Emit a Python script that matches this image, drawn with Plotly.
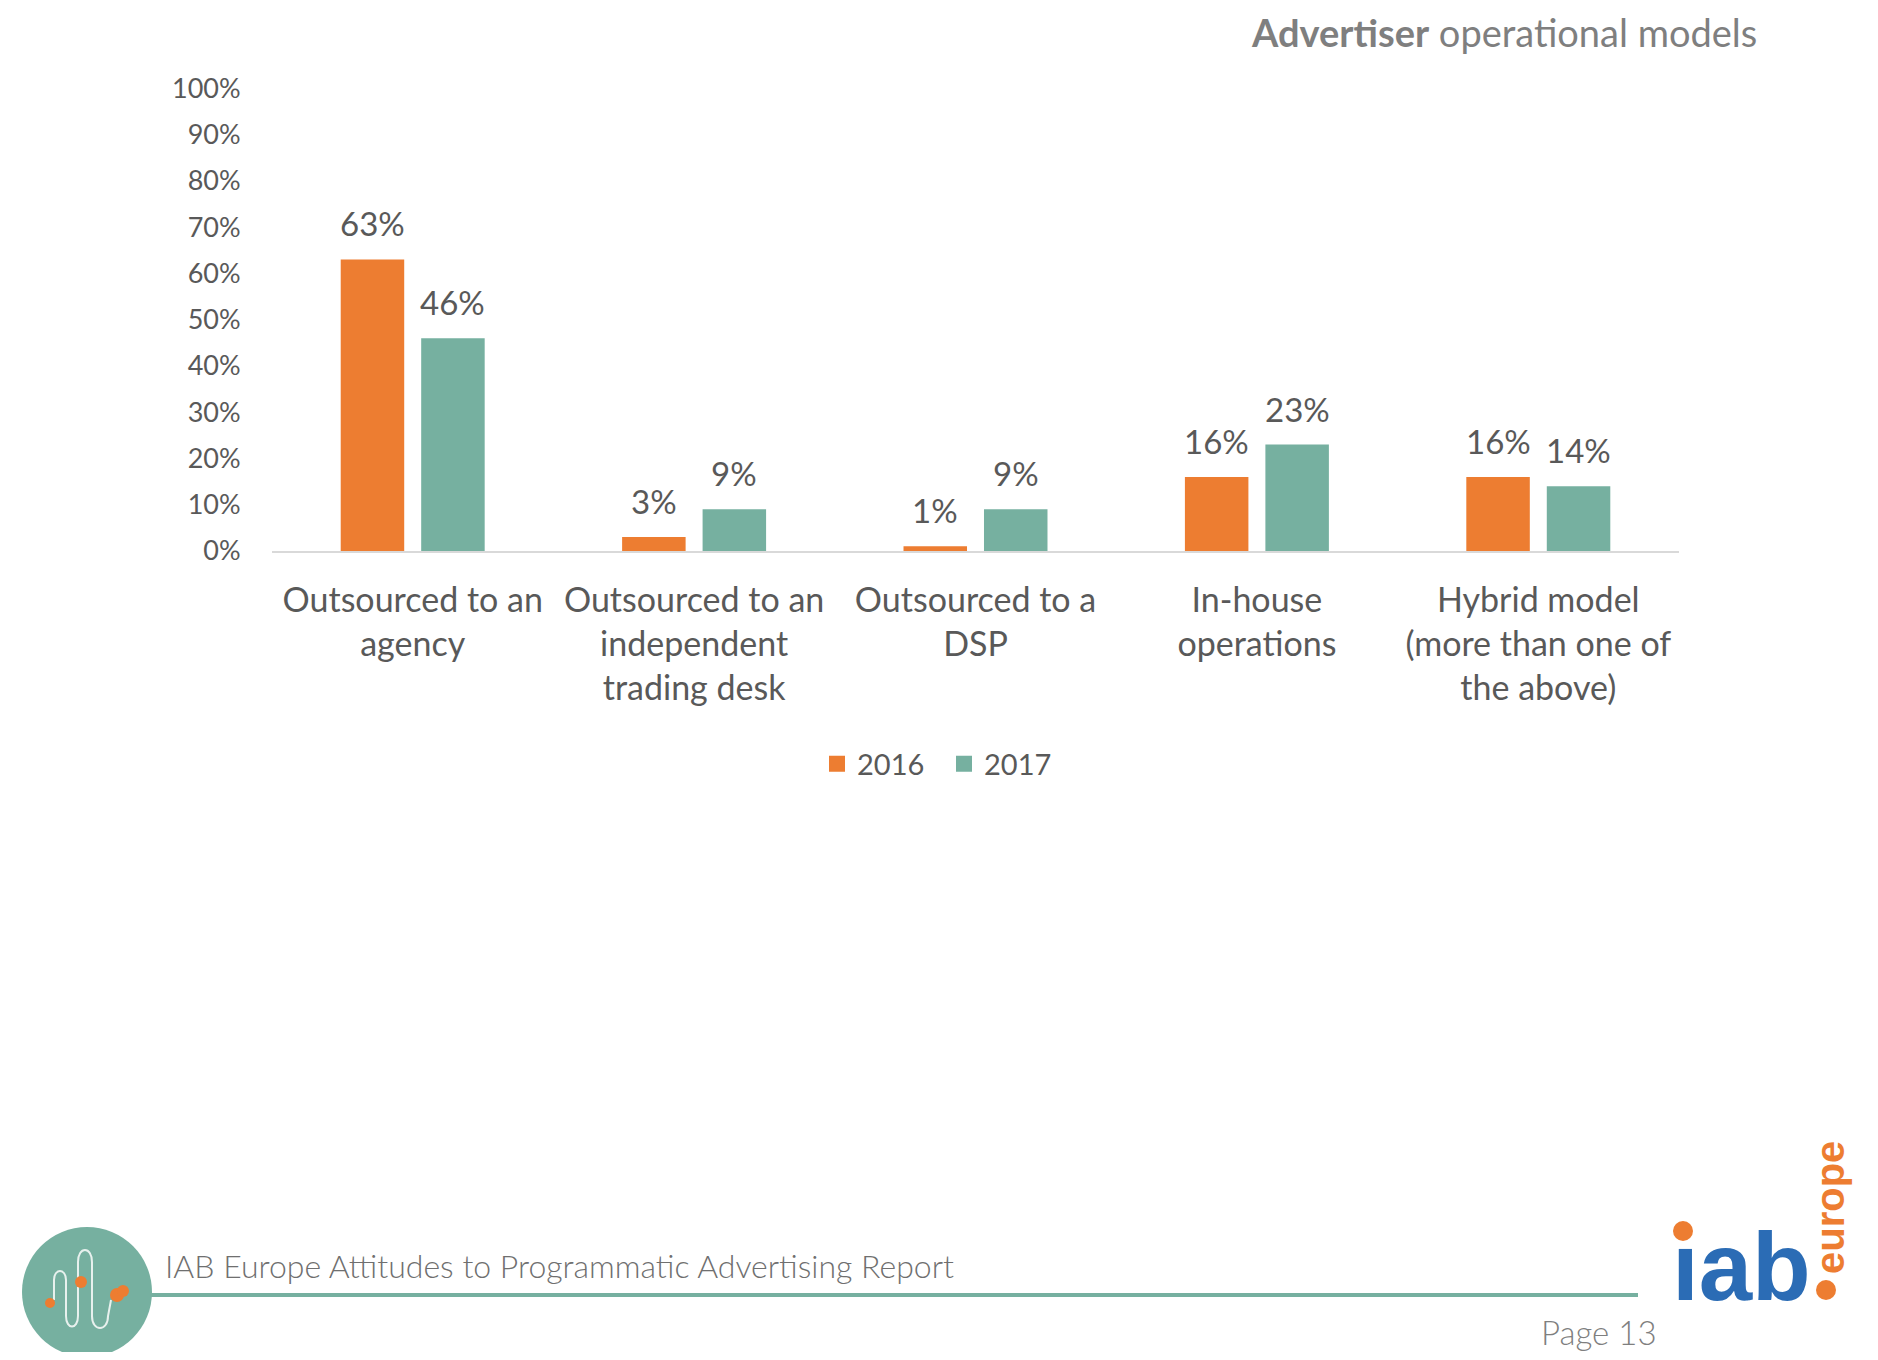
import plotly.graph_objects as go

# ---------------- data ----------------
categories = [
    "Outsourced to an agency",
    "Outsourced to an independent trading desk",
    "Outsourced to a DSP",
    "In-house operations",
    "Hybrid model (more than one of the above)",
]
category_labels = [
    "Outsourced to an<br>agency",
    "Outsourced to an<br>independent<br>trading desk",
    "Outsourced to a<br>DSP",
    "In-house<br>operations",
    "Hybrid model<br>(more than one of<br>the above)",
]
series_names = ["2016", "2017"]
values_2016 = [63, 3, 1, 16, 16]
values_2017 = [46, 9, 9, 23, 14]
y_tick_values = [0, 10, 20, 30, 40, 50, 60, 70, 80, 90, 100]
y_tick_labels = [f"{v}%" for v in y_tick_values]

title_bold = "Advertiser"
title_rest = "operational models"
footer_text = "IAB Europe Attitudes to Programmatic Advertising Report"
page_text = "Page 13"

# ---------------- style ----------------
W, H = 1878, 1360
PAD = 8                      # page body margin
FW, FH = W - 2 * PAD, H - 2 * PAD
ORANGE = "#ED7D31"
TEAL = "#76B0A0"
TEXT = "#595959"
FONT = "Lato"
BLUE = "#2B6CB5"

PLOT_L, PLOT_R = 272, 1679
PLOT_T, PLOT_B = 88.3, 551
BARGAP = 0.428
BARGROUPGAP = 0.211


def fx(x):
    return (x - PAD) / FW


def fy(y):
    return 1 - (y - PAD) / FH


fig = go.Figure()
series = [(series_names[0], values_2016, ORANGE), (series_names[1], values_2017, TEAL)]
for name, vals, col in series:
    fig.add_trace(go.Bar(x=categories, y=vals, name=name, marker_color=col,
                         marker_line_width=0, showlegend=False, hoverinfo="x+y"))
# legend entries
for name, vals, col in series:
    fig.add_trace(go.Scatter(x=[None], y=[None], mode="markers", name=name,
                             marker=dict(symbol="square", size=19, color=col),
                             showlegend=True))

annotations = []
cat_px = (PLOT_R - PLOT_L) / len(categories)
slot = (1 - BARGAP) / 2 * cat_px
for k, (name, vals, col) in enumerate(series):
    sign = -1 if k == 0 else 1
    for c, v in zip(categories, vals):
        annotations.append(dict(x=c, y=v, xref="x", yref="y", text=f"{v}%",
                                showarrow=False, xshift=sign * slot / 2, yshift=36,
                                yanchor="middle", xanchor="center",
                                font=dict(family=FONT, size=33, color=TEXT)))

# title
annotations.append(dict(x=fx(1758), y=1, xref="paper", yref="paper",
                        xanchor="right", yanchor="top", showarrow=False, borderpad=0,
                        text=f"<b>{title_bold}</b> {title_rest}",
                        font=dict(family=FONT, size=38, color="#7F7F7F")))
# footer
annotations.append(dict(x=fx(163), y=fy(1265), xref="paper", yref="paper",
                        xanchor="left", yanchor="middle", showarrow=False,
                        text=footer_text,
                        font=dict(family=FONT, size=32, color="#6F6F6F", weight=300)))
annotations.append(dict(x=fx(1659), y=fy(1332), xref="paper", yref="paper",
                        xanchor="right", yanchor="middle", showarrow=False,
                        text=page_text,
                        font=dict(family=FONT, size=33, color="#7F7F7F", weight=300)))
# iab logo text
annotations.append(dict(x=fx(1741), y=fy(1300), xref="paper", yref="paper",
                        xanchor="center", yanchor="bottom", showarrow=False,
                        text="<b>\u0131ab</b>", yshift=-22,
                        font=dict(family="Liberation Sans", size=96, color=BLUE)))
annotations.append(dict(x=fx(1830), y=fy(1208), xref="paper", yref="paper",
                        xanchor="center", yanchor="middle", showarrow=False,
                        text="<b>europe</b>", textangle=-90,
                        font=dict(family="Liberation Sans", size=40, color=ORANGE)))

shapes = []
# footer rule
shapes.append(dict(type="line", xref="paper", yref="paper", x0=fx(151), x1=fx(1638),
                   y0=fy(1295), y1=fy(1295), line=dict(color=TEAL, width=4), layer="below"))
# circle emblem
cx, cy, r = 87, 1292, 65
shapes.append(dict(type="circle", xref="paper", yref="paper", x0=fx(cx - r), x1=fx(cx + r),
                   y0=fy(cy - r), y1=fy(cy + r), fillcolor=TEAL, line=dict(width=0)))


def P(x, y):
    return f"{fx(x):.5f},{fy(y):.5f}"


squiggle = ("M " + P(54, 1300) + " L " + P(54, 1280) +
            " C " + P(54, 1268) + " " + P(66, 1268) + " " + P(66, 1280) +
            " L " + P(66, 1316) +
            " C " + P(66, 1330) + " " + P(78, 1330) + " " + P(78, 1316) +
            " L " + P(78, 1262) +
            " C " + P(78, 1246) + " " + P(92, 1246) + " " + P(92, 1262) +
            " L " + P(92, 1316) +
            " C " + P(92, 1332) + " " + P(108, 1332) + " " + P(108, 1316) +
            " L " + P(111, 1300))
shapes.append(dict(type="path", xref="paper", yref="paper", path=squiggle,
                   line=dict(color="#E8F1EE", width=2)))
for (dx, dy, dr) in [(50, 1303, 5), (81, 1282, 6), (117, 1295, 7), (123, 1291, 6)]:
    shapes.append(dict(type="circle", xref="paper", yref="paper", x0=fx(dx - dr), x1=fx(dx + dr),
                       y0=fy(dy - dr), y1=fy(dy + dr), fillcolor=ORANGE, line=dict(width=0)))
# iab logo dots
for (dx, dy, dr) in [(1683, 1231, 10), (1826, 1290, 10)]:
    shapes.append(dict(type="circle", xref="paper", yref="paper", x0=fx(dx - dr), x1=fx(dx + dr),
                       y0=fy(dy - dr), y1=fy(dy + dr), fillcolor=ORANGE, line=dict(width=0)))

fig.update_layout(
    width=FW, height=FH,
    margin=dict(l=0, r=0, t=0, b=0, pad=0, autoexpand=False),
    paper_bgcolor="white", plot_bgcolor="white",
    barmode="group", bargap=BARGAP, bargroupgap=BARGROUPGAP,
    font=dict(family=FONT, color=TEXT),
    annotations=annotations, shapes=shapes,
    showlegend=True,
    legend=dict(orientation="h", x=fx(817), xanchor="left", y=fy(764), yanchor="middle",
                font=dict(family=FONT, size=29, color=TEXT), entrywidth=82,
                bgcolor="rgba(0,0,0,0)", itemclick=False),
    xaxis=dict(domain=[fx(PLOT_L), fx(PLOT_R)], type="category", automargin=False,
               tickmode="array", tickvals=categories, ticktext=category_labels,
               tickfont=dict(family=FONT, size=34, color=TEXT),
               showline=True, linecolor="#D9D9D9", linewidth=2,
               ticks="outside", ticklen=18, tickcolor="rgba(0,0,0,0)",
               showgrid=False, zeroline=False, fixedrange=True),
    yaxis=dict(domain=[fy(PLOT_B), fy(PLOT_T)], range=[0, 100], automargin=False,
               tickmode="array", tickvals=y_tick_values, ticktext=y_tick_labels,
               tickfont=dict(family=FONT, size=27, color=TEXT),
               ticks="outside", ticklen=25, tickcolor="rgba(0,0,0,0)",
               showline=False, showgrid=False, zeroline=False, fixedrange=True),
)

fig.write_html("out.html")
